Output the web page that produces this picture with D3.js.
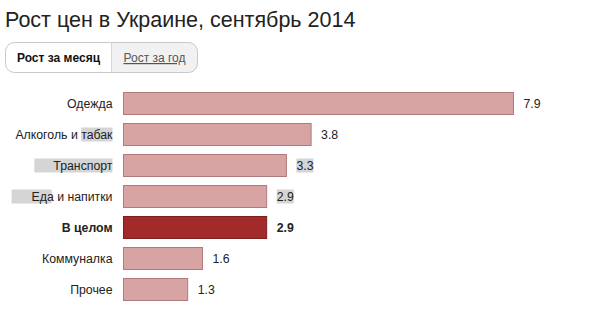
<!DOCTYPE html>
<html>
<head>
<meta charset="utf-8">
<script src="https://cdn.jsdelivr.net/npm/d3@7/dist/d3.min.js"></script>
<style>
  html, body { margin: 0; padding: 0; background: #fff; }
  svg { display: block; font-family: "Liberation Sans", Arial, Helvetica, sans-serif; }
</style>
</head>
<body>
<svg id="chart" width="596" height="326"></svg>
<script>
// Monthly price growth by category, %
const categories = ["Одежда", "Алкоголь и табак", "Транспорт", "Еда и напитки", "В целом", "Коммуналка", "Прочее"];
const values = [7.9, 3.8, 3.3, 2.9, 2.9, 1.6, 1.3];
const totalCategory = "В целом";
const titleText = "Рост цен в Украине, сентябрь 2014";
const tabLabels = ["Рост за месяц", "Рост за год"];

const svg = d3.select("#chart");

// Title
svg.append("text")
  .attr("x", 5).attr("y", 27)
  .attr("font-size", 21.5)
  .attr("fill", "#222")
  .text(titleText);

// Toggle buttons
const tabs = svg.append("g");
const tabX0 = 5.5, tabX1 = 111.5, tabX2 = 197.5, tabY = 42.5, tabH = 30, r = 9;
tabs.append("path")
  .attr("d", `M${tabX1},${tabY} H${tabX2 - r} A${r},${r} 0 0 1 ${tabX2},${tabY + r} V${tabY + tabH - r} A${r},${r} 0 0 1 ${tabX2 - r},${tabY + tabH} H${tabX1} Z`)
  .attr("fill", "#f1f1f1");
tabs.append("rect")
  .attr("x", tabX0).attr("y", tabY)
  .attr("width", tabX2 - tabX0).attr("height", tabH)
  .attr("rx", r).attr("ry", r)
  .attr("fill", "none").attr("stroke", "#c8c8c8");
tabs.append("line")
  .attr("x1", tabX1).attr("x2", tabX1)
  .attr("y1", tabY).attr("y2", tabY + tabH)
  .attr("stroke", "#d6d6d6");
tabs.append("text")
  .attr("x", (tabX0 + tabX1) / 2).attr("y", 62)
  .attr("text-anchor", "middle")
  .attr("font-size", 12).attr("font-weight", "bold")
  .attr("fill", "#111")
  .text(tabLabels[0]);
tabs.append("text")
  .attr("x", (tabX1 + tabX2) / 2).attr("y", 62)
  .attr("text-anchor", "middle")
  .attr("font-size", 12)
  .attr("text-decoration", "underline")
  .attr("fill", "#555")
  .text(tabLabels[1]);

// Scales
const x = d3.scaleLinear()
  .domain([0, d3.max(values)])
  .range([123.5, 513.5]);

const y = d3.scaleBand()
  .domain(categories)
  .range([92, 301])
  .paddingInner(8 / 31)
  .paddingOuter(0);

const rows = categories.map((c, i) => ({ category: c, value: values[i] }));

const labelX = 112.5;

// Selection highlights behind some of the text
const hl = svg.append("g").attr("class", "highlights");

// Category labels
const labels = svg.append("g").selectAll("text")
  .data(rows)
  .join("text")
  .attr("x", labelX)
  .attr("y", d => y(d.category) + y.bandwidth() / 2)
  .attr("dy", "0.35em")
  .attr("text-anchor", "end")
  .attr("font-size", 12.3)
  .attr("font-weight", d => d.category === totalCategory ? "bold" : "normal")
  .attr("fill", "#222")
  .text(d => d.category);

// Bars
svg.append("g").selectAll("rect")
  .data(rows)
  .join("rect")
  .attr("x", x(0))
  .attr("y", d => y(d.category) + 0.5)
  .attr("width", d => x(d.value) - x(0))
  .attr("height", y.bandwidth() - 1)
  .attr("fill", d => d.category === totalCategory ? "#a22a2a" : "#d7a3a3")
  .attr("stroke", d => d.category === totalCategory ? "#7d1e1e" : "#b07a7c")
  .attr("stroke-width", 1);

// Value labels
const valueLabels = svg.append("g").selectAll("text")
  .data(rows)
  .join("text")
  .attr("x", d => x(d.value) + 10)
  .attr("y", d => y(d.category) + y.bandwidth() / 2)
  .attr("dy", "0.35em")
  .attr("font-size", 12.3)
  .attr("font-weight", d => d.category === totalCategory ? "bold" : "normal")
  .attr("fill", "#222")
  .text(d => d.value.toFixed(1));

const hlColor = "#d5d5d5";
function addHl(x0, x1, cy) {
  hl.append("rect")
    .attr("x", x0).attr("y", cy - 7)
    .attr("width", x1 - x0).attr("height", 14)
    .attr("fill", hlColor);
}
labels.each(function (d, i) {
  const cy = y(d.category) + y.bandwidth() / 2;
  const n = d.category.length;
  const w = this.getComputedTextLength();
  const start = labelX - w;
  if (i === 1) {
    const pre = this.getSubStringLength(0, n - 5);
    addHl(start + pre, labelX, cy);
  } else if (i === 2) {
    addHl(start - 19, labelX, cy);
  } else if (i === 3) {
    addHl(start - 20, start + this.getSubStringLength(0, 3) - 2, cy);
  }
});
valueLabels.each(function (d, i) {
  if (i === 2 || i === 3) {
    const cy = y(d.category) + y.bandwidth() / 2;
    const x0 = x(d.value) + 10;
    addHl(x0, x0 + this.getComputedTextLength(), cy);
  }
});
</script>
</body>
</html>
